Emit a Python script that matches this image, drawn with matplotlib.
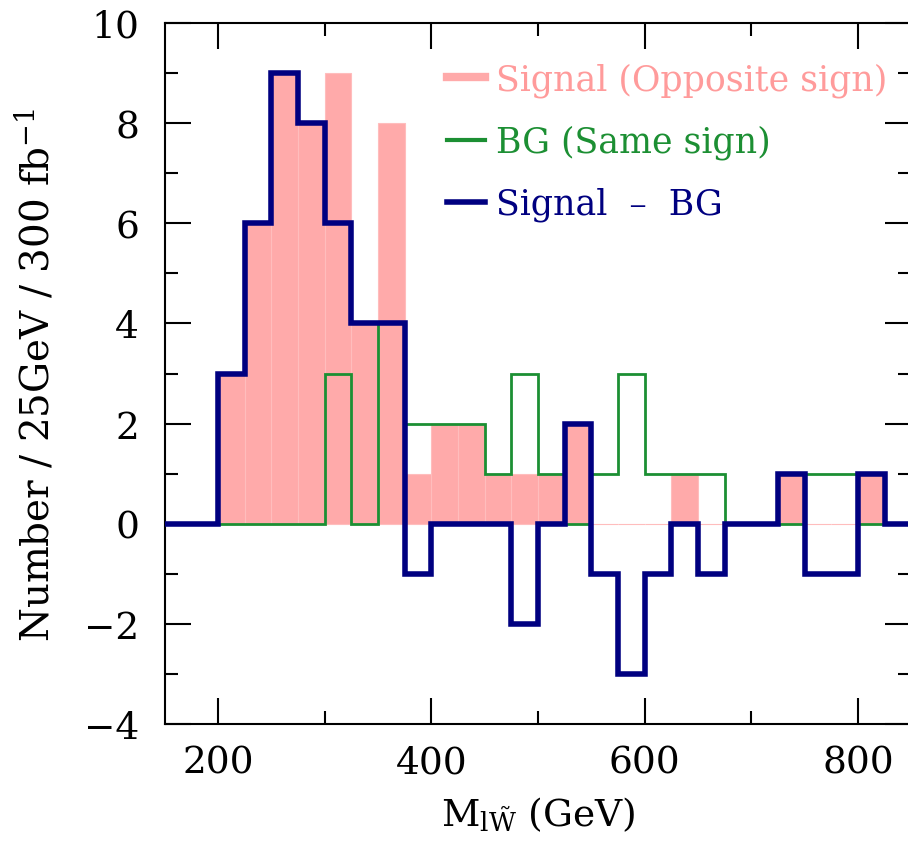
#!/usr/bin/env python3
"""Invariant mass M_lW~ histogram: opposite-sign signal, same-sign BG, and their difference."""
import numpy as np
import matplotlib
matplotlib.use("Agg")
import matplotlib.pyplot as plt
from matplotlib.lines import Line2D
from matplotlib.ticker import MultipleLocator

# 25 GeV bins from 150 to 850 GeV
bin_edges = np.arange(150, 851, 25)
signal_os = [0, 0, 3, 6, 9, 8, 9, 4, 8, 1, 2, 2, 1, 1, 1, 2, 0, 0, 0, 1, 0, 0, 0, 1, 0, 0, 1, 0]
bg_ss = [0, 0, 0, 0, 0, 0, 3, 0, 4, 2, 2, 2, 1, 3, 1, 0, 1, 3, 1, 1, 1, 0, 0, 0, 1, 1, 0, 0]
signal_minus_bg = np.array(signal_os) - np.array(bg_ss)

labels = ["Signal (Opposite sign)", "BG (Same sign)", "Signal  \u2013  BG"]

PINK = "#ffaaaa"
PINK_EDGE = "#ffbdbd"
PINK_TEXT = "#ff9b9b"
GREEN = "#1c8f33"
NAVY = "#000080"

plt.rcParams["font.family"] = "DejaVu Serif"
plt.rcParams["mathtext.fontset"] = "dejavuserif"

fig = plt.figure(figsize=(9.08, 8.45), dpi=100)
ax = fig.add_axes([0.1814, 0.1420, 0.8222, 0.8296])

centers = bin_edges[:-1] + 12.5
ax.bar(centers, signal_os, width=25, color=PINK, edgecolor=PINK_EDGE, linewidth=0.8, zorder=1)
ax.stairs(bg_ss, bin_edges, color=GREEN, linewidth=2.0, zorder=2)
blue = ax.stairs(signal_minus_bg, bin_edges, color=NAVY, linewidth=4.0, zorder=3)
blue.set_joinstyle("miter")

ax.set_xlim(150, 850)
ax.set_ylim(-4, 10)
ax.xaxis.set_major_locator(MultipleLocator(200))
ax.xaxis.set_minor_locator(MultipleLocator(100))
ax.yaxis.set_major_locator(MultipleLocator(2))
ax.yaxis.set_minor_locator(MultipleLocator(1))
ax.tick_params(which="both", direction="in", top=True, right=True, width=1.5, labelsize=27)
ax.tick_params(axis="x", pad=14.5)
ax.tick_params(axis="y", pad=18.5)
ax.tick_params(which="major", length=19)
ax.tick_params(which="minor", length=9.5)
for sp in ax.spines.values():
    sp.set_linewidth(1.5)

ax.set_xlabel(r"M$_{\mathrm{l}\tilde{\mathrm{W}}}$ (GeV)", fontsize=27, labelpad=10)
ax.set_ylabel(r"Number / 25GeV / 300 fb$^{-1}$", fontsize=28)
ax.yaxis.set_label_coords(-0.145, 0.5)

handles = [
    Line2D([], [], color=PINK, linewidth=6),
    Line2D([], [], color=GREEN, linewidth=3),
    Line2D([], [], color=NAVY, linewidth=4),
]
leg = ax.legend(handles, labels, loc="upper left", bbox_to_anchor=(0.378, 0.944),
                frameon=False, fontsize=25, handlelength=1.1, handletextpad=0.32,
                labelspacing=0.8, borderaxespad=0, borderpad=0,
                labelcolor=[PINK_TEXT, GREEN, NAVY])

fig.savefig("out.png", dpi=100)
